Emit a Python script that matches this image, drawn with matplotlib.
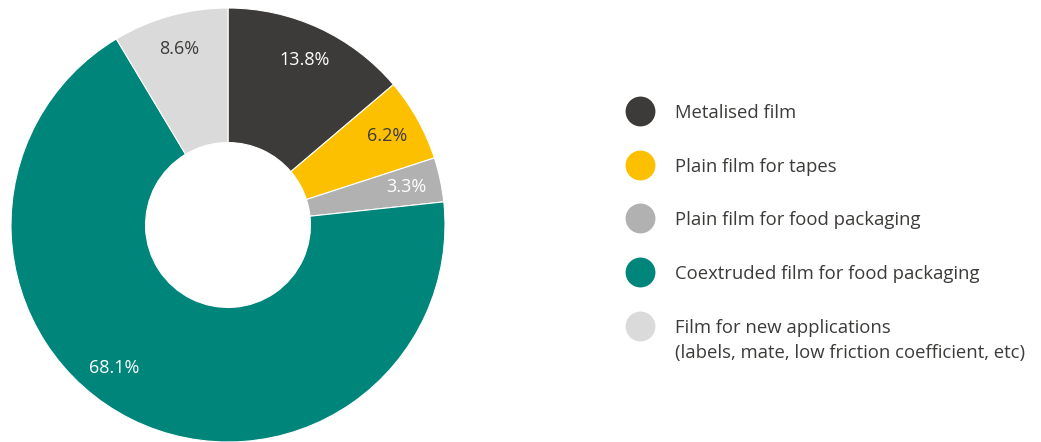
import numpy as np
import matplotlib.pyplot as plt

# data
labels = ["Metalised film", "Plain film for tapes", "Plain film for food packaging",
          "Coextruded film for food packaging",
          "Film for new applications\n(labels, mate, low friction coefficient, etc)"]
shares = [13.8, 6.2, 3.3, 68.1, 8.6]
colors = ["#3c3b39", "#fcc000", "#b1b1b1", "#00857a", "#dadada"]
pct_colors = ["white", "#3c3b39", "white", "white", "#3c3b39"]
# extra turn (deg) for the big label, the original puts it off-centre
pct_nudge = [0, 0, 0, -12, 0]

plt.rcParams['font.family'] = ['Open Sans', 'DejaVu Sans']
text_col = "#3c3b39"

W, H = 1041, 442
fig = plt.figure(figsize=(W / 100, H / 100), dpi=100)

# donut, centre at (228, 225) px, radius 217 px
cx, cy, r = 228, 225, 217
ax = fig.add_axes([(cx - r) / W, (H - cy - r) / H, 2 * r / W, 2 * r / H])
wedges, _ = ax.pie(shares, colors=colors, startangle=90, counterclock=False,
                   radius=1.0, wedgeprops=dict(width=0.62, edgecolor="white", linewidth=0.8))
ax.set_xlim(-1, 1)
ax.set_ylim(-1, 1)
ax.set_aspect("equal")
ax.axis("off")

for w, v, c, n in zip(wedges, shares, pct_colors, pct_nudge):
    mid = np.deg2rad((w.theta1 + w.theta2) / 2 + n)
    d = 0.84
    ax.text(d * np.cos(mid), d * np.sin(mid), f"{v}%", ha="center", va="center",
            fontsize=13, color=c)

# legend drawn by hand
lax = fig.add_axes([0, 0, 1, 1])
lax.set_xlim(0, W)
lax.set_ylim(H, 0)
lax.axis("off")
ys = [111, 165, 218, 272, 326]
for y, lab, c in zip(ys, labels, colors):
    lax.plot([640], [y], "o", ms=21.5, color=c, mec="none")
    for i, line in enumerate(lab.split("\n")):
        lax.text(675, y + 25 * i, line, ha="left", va="center_baseline", fontsize=13.3,
                 color=text_col)

fig.savefig("out.png", dpi=100)
